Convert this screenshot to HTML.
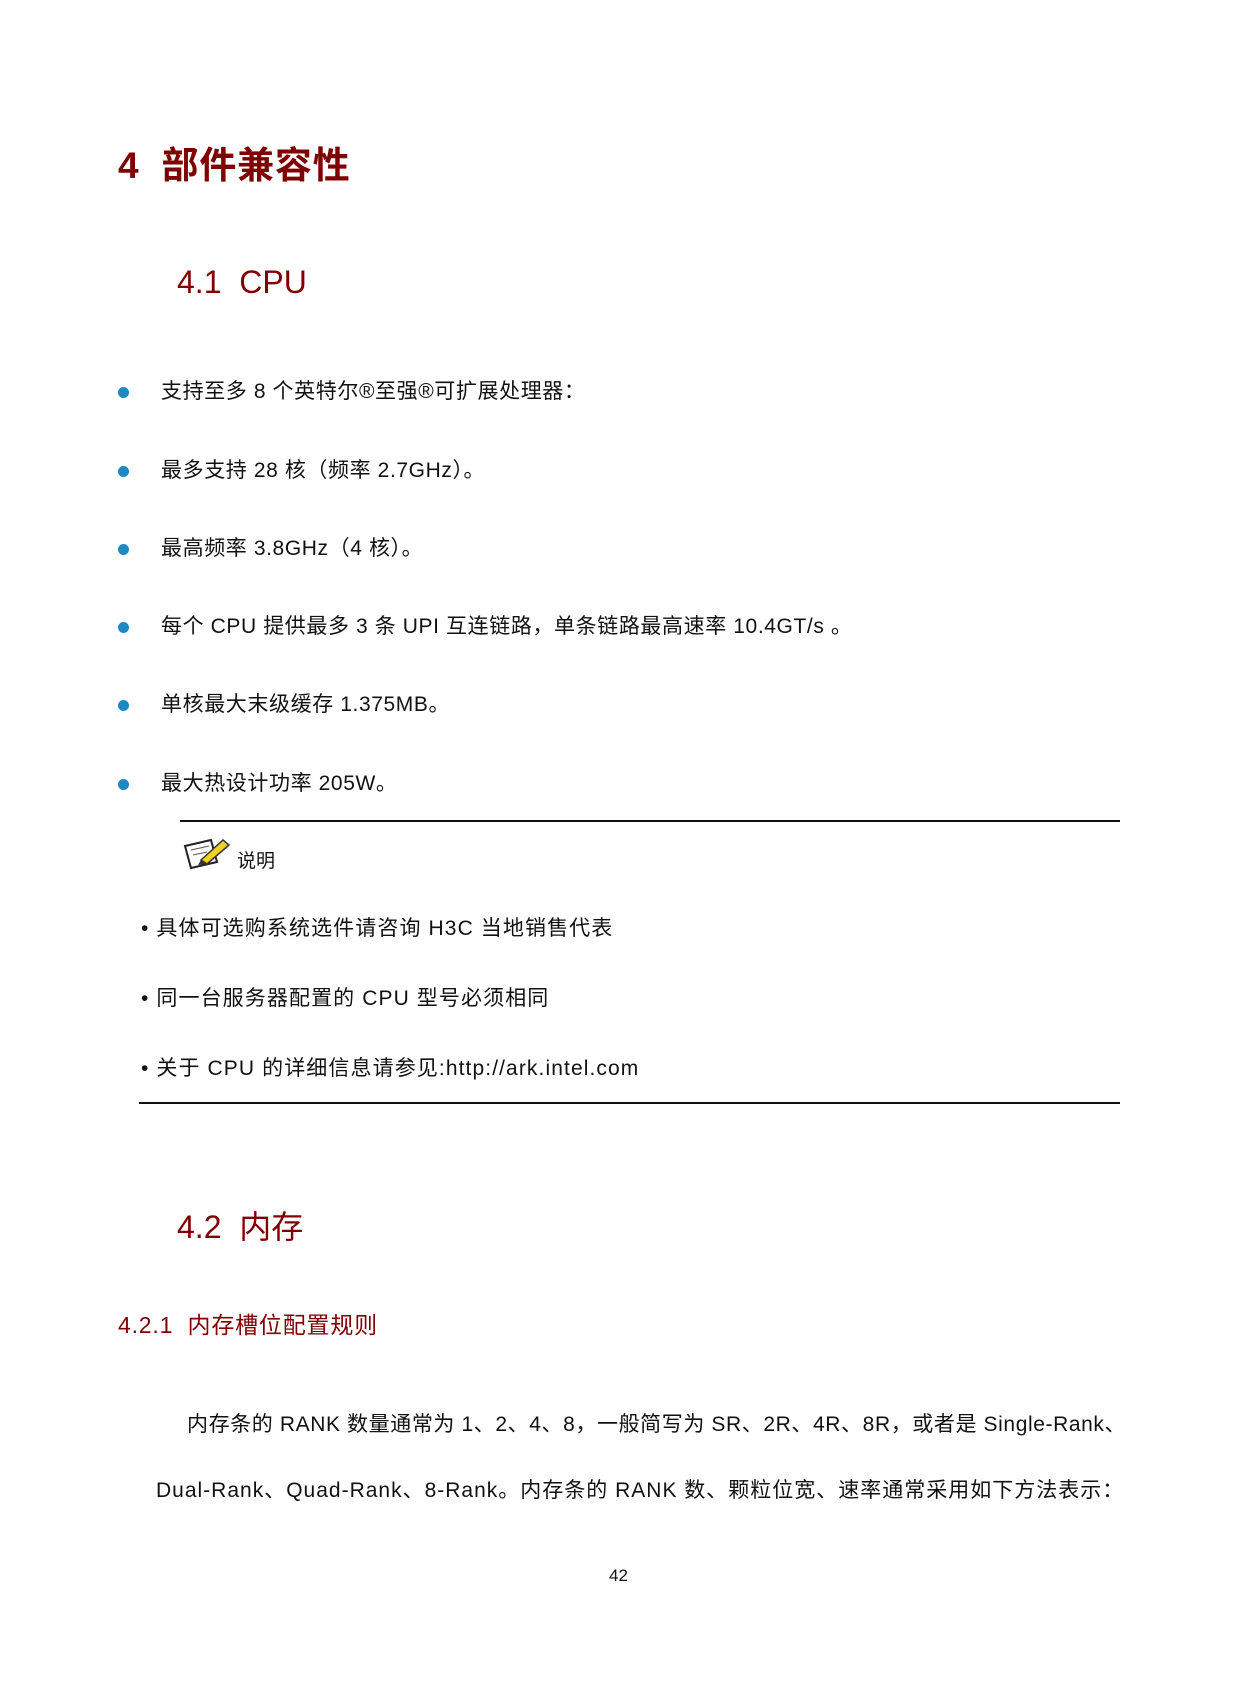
<!DOCTYPE html>
<html><head><meta charset="utf-8"><style>
body{margin:0;width:1240px;height:1683px;background:#fff;position:relative;font-family:"Liberation Sans","Noto Sans CJK SC",sans-serif;color:#111;overflow:hidden}
.t{position:absolute;white-space:nowrap;line-height:1}
.r{color:#7f0000}
.b{position:absolute;width:11px;height:11px;border-radius:50%;background:#1e88c4}
.l{position:absolute;height:2px;background:#111}
.s{font-size:21px;letter-spacing:0.6px}
.p{font-size:21px;letter-spacing:1.1px}
</style></head><body>
<div class="t r" style="left:118px;top:147px;font-size:37px;font-weight:bold;letter-spacing:0.8px">4&nbsp;&nbsp;部件兼容性</div>
<div class="t r" style="left:177px;top:266px;font-size:32px">4.1&nbsp;&nbsp;CPU</div>

<div class="b" style="left:118px;top:387px"></div><div class="t s" style="left:161px;top:381px">支持至多 8 个英特尔®至强®可扩展处理器：</div>
<div class="b" style="left:118px;top:466px"></div><div class="t s" style="left:161px;top:460px">最多支持 28 核（频率 2.7GHz）。</div>
<div class="b" style="left:118px;top:544px"></div><div class="t s" style="left:161px;top:538px">最高频率 3.8GHz（4 核）。</div>
<div class="b" style="left:118px;top:622px"></div><div class="t s" style="left:161px;top:616px">每个 CPU 提供最多 3 条 UPI 互连链路，单条链路最高速率 10.4GT/s 。</div>
<div class="b" style="left:118px;top:700px"></div><div class="t s" style="left:161px;top:694px">单核最大末级缓存 1.375MB。</div>
<div class="b" style="left:118px;top:779px"></div><div class="t s" style="left:161px;top:773px">最大热设计功率 205W。</div>

<div class="l" style="left:180px;top:820px;width:940px"></div>
<svg style="position:absolute;left:183px;top:834px" width="50" height="40" viewBox="0 0 50 40">
<polygon points="2,12 28,6 34,28 8,34" fill="#fff" stroke="#222" stroke-width="2"/>
<line x1="8" y1="16" x2="26" y2="12" stroke="#555"/><line x1="10" y1="21" x2="24" y2="18" stroke="#555"/>
<polygon points="18,26 40,6 46,11 24,30" fill="#f2d21a" stroke="#333" stroke-width="1.5"/>
<polygon points="18,26 24,30 15,31" fill="#333"/>
</svg>
<div class="t" style="left:237px;top:852px;font-size:19px">说明</div>
<div class="t p" style="left:141px;top:918px">• 具体可选购系统选件请咨询 H3C 当地销售代表</div>
<div class="t p" style="left:141px;top:988px">• 同一台服务器配置的 CPU 型号必须相同</div>
<div class="t p" style="left:141px;top:1058px">• 关于 CPU 的详细信息请参见:http://ark.intel.com</div>
<div class="l" style="left:139px;top:1102px;width:981px"></div>

<div class="t r" style="left:177px;top:1211px;font-size:32px">4.2&nbsp;&nbsp;内存</div>
<div class="t r" style="left:118px;top:1314px;font-size:23px;letter-spacing:0.8px">4.2.1&nbsp;&nbsp;内存槽位配置规则</div>
<div class="t p" style="left:187px;top:1414px;letter-spacing:0.6px">内存条的 RANK 数量通常为 1、2、4、8，一般简写为 SR、2R、4R、8R，或者是 Single-Rank、</div>
<div class="t p" style="left:156px;top:1480px;letter-spacing:1.0px">Dual-Rank、Quad-Rank、8-Rank。内存条的 RANK 数、颗粒位宽、速率通常采用如下方法表示：</div>
<div class="t" style="left:609px;top:1567px;font-size:17px">42</div>
</body></html>
